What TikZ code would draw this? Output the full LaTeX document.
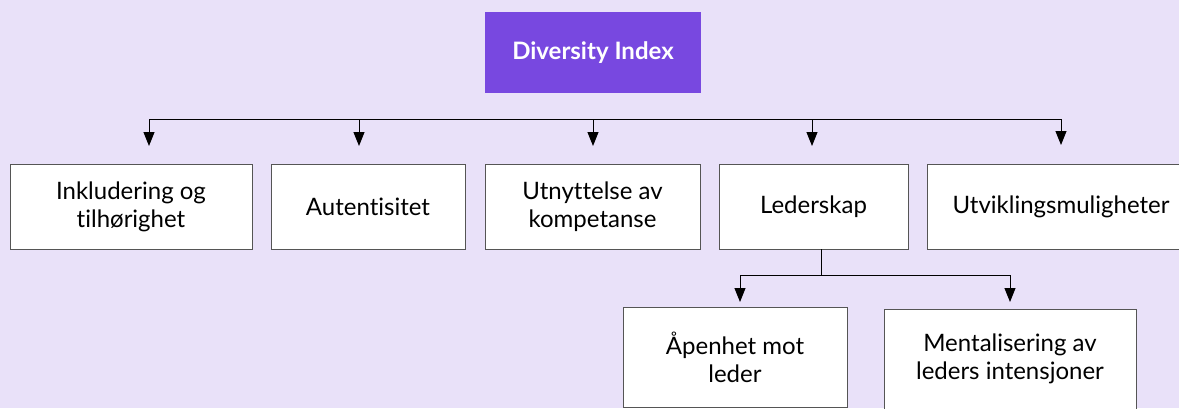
\documentclass[tikz,border=0pt]{standalone}
\usepackage{fontspec}
\setmainfont{Lato}[Ligatures=NoCommon]
\usetikzlibrary{arrows.meta}
\definecolor{bg}{HTML}{E9E1F9}
\definecolor{topc}{HTML}{7848E0}
\definecolor{edge}{HTML}{555555}
\tikzset{
  x=1pt,y=-1pt,
  box/.style={draw=edge,line width=1pt,fill=white,inner sep=0pt,align=center,font=\fontsize{24}{28}\selectfont},
  topbox/.style={fill=topc,text=white,inner sep=0pt,align=center,font=\fontsize{24}{28}\selectfont\bfseries},
  conn/.style={line width=1pt,-{Triangle[length=14pt,width=11pt]}},
  plain/.style={line width=1pt}
}
\begin{document}
\begin{tikzpicture}
\useasboundingbox (0,0) rectangle (1179,408);
\clip (0,0) rectangle (1179,408);
\fill[bg] (0,0) rectangle (1179,408);
\node[topbox,minimum width=216pt,minimum height=81pt] (top) at (593,52.5) {Diversity Index};
\node[box,minimum width=242pt,minimum height=85pt] (b1) at (131,206.5) {Inkludering og\\tilhørighet};
\node[box,minimum width=194pt,minimum height=85pt] (b2) at (368,206.5) {Autentisitet};
\node[box,minimum width=215pt,minimum height=85pt] (b3) at (592.5,206.5) {Utnyttelse av\\kompetanse};
\node[box,minimum width=189pt,minimum height=85pt] (b4) at (813.5,206.5) {Lederskap};
\node[box,minimum width=268pt,minimum height=85pt] (b5) at (1061,206.5) {Utviklingsmuligheter};
\node[box,minimum width=224pt,minimum height=100pt] (c1) at (735,357) {Åpenhet mot\\leder};
\node[box,minimum width=252pt,minimum height=100pt] (c2) at (1010,359) {Mentalisering av\\leders intensjoner};
\coordinate (h1) at (149,119);
\coordinate (h2) at (359,119);
\coordinate (h3) at (593,119);
\coordinate (h4) at (812,119);
\coordinate (h5) at (1061,119);
\draw[plain] (h1) -- (h5);
\draw[conn] (h1) -- (149,146);
\draw[conn] (h2) -- (359,146);
\draw[conn] (h3) -- (593,146);
\draw[conn] (h4) -- (812,146);
\draw[conn] (h5) -- (1061,145);
\coordinate (ls) at (821,249);
\coordinate (lm) at (821,275);
\coordinate (l1) at (740,275);
\coordinate (l2) at (1010,275);
\draw[plain] (ls) -- (lm);
\draw[plain] (l1) -- (l2);
\draw[conn] (l1) -- (740,302);
\draw[conn] (l2) -- (1010,302);
\end{tikzpicture}
\end{document}
